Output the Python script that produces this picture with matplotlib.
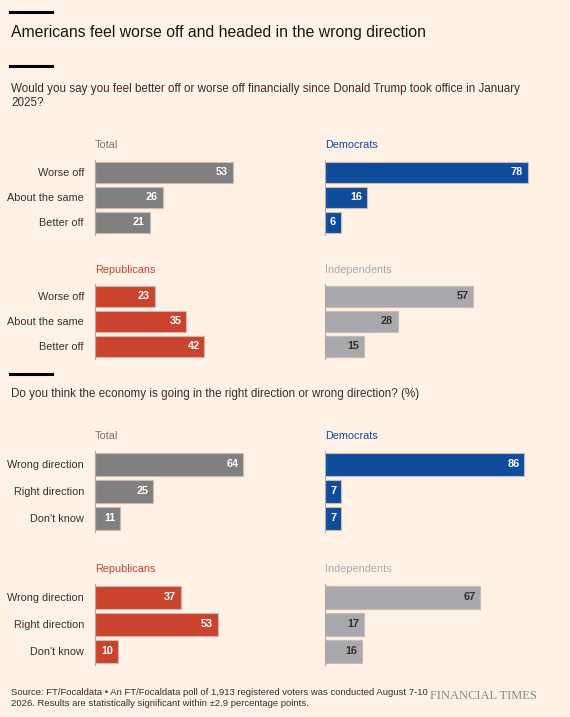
import matplotlib
matplotlib.use("Agg")
import matplotlib.pyplot as plt

plt.rcParams["font.family"] = ["Liberation Sans", "DejaVu Sans"]

W, H = 570, 717
BG = "#fff1e5"

Q1_CATS = ["Worse off", "About the same", "Better off"]
Q2_CATS = ["Wrong direction", "Right direction", "Don't know"]

Q1_TOTAL = [53, 26, 21]
Q1_DEM = [78, 16, 6]
Q1_REP = [23, 35, 42]
Q1_IND = [57, 28, 15]

Q2_TOTAL = [64, 25, 11]
Q2_DEM = [86, 7, 7]
Q2_REP = [37, 53, 10]
Q2_IND = [67, 17, 16]

GREY = "#808080"
BLUE = "#0f4c9c"
RED = "#c9432f"
LIGHT = "#a9a9ad"

fig = plt.figure(figsize=(W / 100, H / 100), dpi=100, facecolor=BG)


def px_axes(x0, ytop, w, h):
    return fig.add_axes([x0 / W, 1 - (ytop + h) / H, w / W, h / H])


def ftext(x, y, s, **kw):
    fig.text(x / W, 1 - y / H, s, **kw)


def panel(x0, c0, step, xmax, title, title_col, cats, vals, color, dark_label, show_cats):
    ax = px_axes(x0, c0 - step / 2, 234, 3 * step)
    ax.set_facecolor("none")
    ax.barh(range(3), vals, height=(step - 4) / step, color=color, edgecolor="#cdb9ad", lw=0.8)
    ax.set_xlim(0, xmax)
    ax.set_ylim(2.5, -0.5)
    for s in ["top", "right", "bottom"]:
        ax.spines[s].set_visible(False)
    ax.spines["left"].set_color("#b0a8a2")
    ax.spines["left"].set_bounds(-0.5, 2.5)
    ax.set_xticks([])
    ax.set_yticks(range(3))
    ax.set_yticklabels(cats if show_cats else [""] * 3, fontsize=7.8, color="#33302e")
    ax.tick_params(axis="y", length=0, pad=8)
    for i, v in enumerate(vals):
        ax.text(v - xmax * 0.02, i, str(v), ha="right", va="center", fontsize=7.8,
                fontweight="bold", color="#33302e" if dark_label else "white")
    ftext(x0, c0 - step / 2 - 14, title, fontsize=7.8, color=title_col, va="center")


def block(c_top, c_bot, step, xmax, cats, tot, dem, rep, ind):
    panel(95, c_top, step, xmax, "Total", "#7a7572", cats, tot, GREY, False, True)
    panel(325, c_top, step, xmax, "Democrats", BLUE, cats, dem, BLUE, False, False)
    panel(95, c_bot, step, xmax, "Republicans", RED, cats, rep, RED, False, True)
    panel(325, c_bot, step, xmax, "Independents", "#a9a9ad", cats, ind, LIGHT, True, False)


block(172, 296, 25, 90, Q1_CATS, Q1_TOTAL, Q1_DEM, Q1_REP, Q1_IND)
block(464, 597, 27, 101, Q2_CATS, Q2_TOTAL, Q2_DEM, Q2_REP, Q2_IND)

for y in [12, 66, 374]:
    fig.add_artist(plt.Line2D([10 / W, 52 / W], [1 - y / H] * 2, color="black", lw=2.2))

ftext(11, 33, "Americans feel worse off and headed in the wrong direction",
      fontsize=11.3, color="#1a1816", va="center")
ftext(11, 96, "Would you say you feel better off or worse off financially since Donald Trump took office in January\n2025?",
      fontsize=8.4, color="#33302e", va="center", linespacing=1.3)
ftext(11, 394, "Do you think the economy is going in the right direction or wrong direction? (%)",
      fontsize=8.4, color="#33302e", va="center")
ftext(11, 698, "Source: FT/Focaldata \u2022 An FT/Focaldata poll of 1,913 registered voters was conducted August 7-10\n"
      "2026. Results are statistically significant within \u00b12.9 percentage points.",
      fontsize=6.8, color="#33302e", va="center", linespacing=1.2)
ftext(430, 696, "FINANCIAL TIMES", fontsize=9, color="#8a8582", va="center",
      family="Liberation Serif")

fig.savefig("out.png", dpi=100, facecolor=BG)
